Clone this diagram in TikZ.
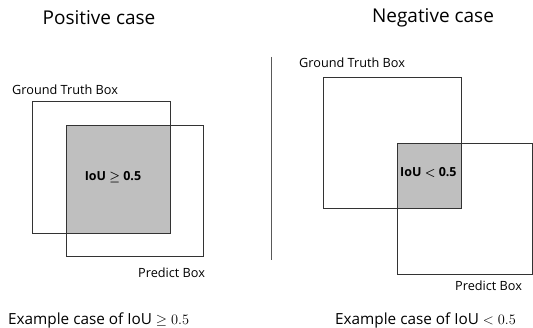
\documentclass[tikz,border=0pt]{standalone}
\usepackage{fontspec}
\setmainfont{Open Sans}
\usepackage{amsmath}
\begin{document}
\begin{tikzpicture}[x=1pt,y=-1pt,
  box/.style={rectangle, inner sep=0pt, anchor=north west},
  edge/.style={draw=black!80, line width=0.9pt},
  overlap/.style={fill=black!25},
  title/.style={font=\fontsize{19}{22}\selectfont, inner sep=0pt},
  lbl/.style={font=\fontsize{12.7}{15}\selectfont, inner sep=0pt},
  captext/.style={font=\fontsize{15.3}{18}\selectfont, inner sep=0pt},
  iou/.style={font=\fontsize{12.5}{15}\selectfont\bfseries, inner sep=0pt}]
\useasboundingbox (0,0) rectangle (533,328);
% left panel
\node[box, minimum width=138pt, minimum height=132pt] (gt1) at (32,101) {};
\node[box, minimum width=137pt, minimum height=131pt] (pd1) at (66,125) {};
\fill[overlap] (pd1.north west) rectangle (gt1.south east);
\draw[edge] (gt1.north west) rectangle (gt1.south east);
\draw[edge] (pd1.north west) rectangle (pd1.south east);
\node[title] (t1) at (99,18) {Positive case};
\node[lbl, anchor=west] (g1) at (12,90) {Ground Truth Box};
\node[lbl, anchor=west] (p1) at (138,273) {Predict Box};
\node[iou] (i1) at (113,177) {IoU $\boldsymbol{\geq}$ 0.5};
\node[captext, anchor=west] (c1) at (8,320) {Example case of IoU $\geq 0.5$};
% divider
\coordinate (v1) at (271.5,57);
\coordinate (v2) at (271.5,260);
\draw[black!65, line width=0.9pt] (v1) -- (v2);
% right panel
\node[box, minimum width=138pt, minimum height=131.5pt] (gt2) at (323,77) {};
\node[box, minimum width=135.5pt, minimum height=131.5pt] (pd2) at (397,143) {};
\fill[overlap] (pd2.north west) rectangle (gt2.south east);
\draw[edge] (gt2.north west) rectangle (gt2.south east);
\draw[edge] (pd2.north west) rectangle (pd2.south east);
\node[title] (t2) at (433,18) {Negative case};
\node[lbl, anchor=west] (g2) at (299,63) {Ground Truth Box};
\node[lbl, anchor=west] (p2) at (455,286) {Predict Box};
\node[iou, anchor=west] (i2) at (400,172) {IoU $\boldsymbol{<}$ 0.5};
\node[captext, anchor=west] (c2) at (335,320) {Example case of IoU $< 0.5$};
\end{tikzpicture}
\end{document}
